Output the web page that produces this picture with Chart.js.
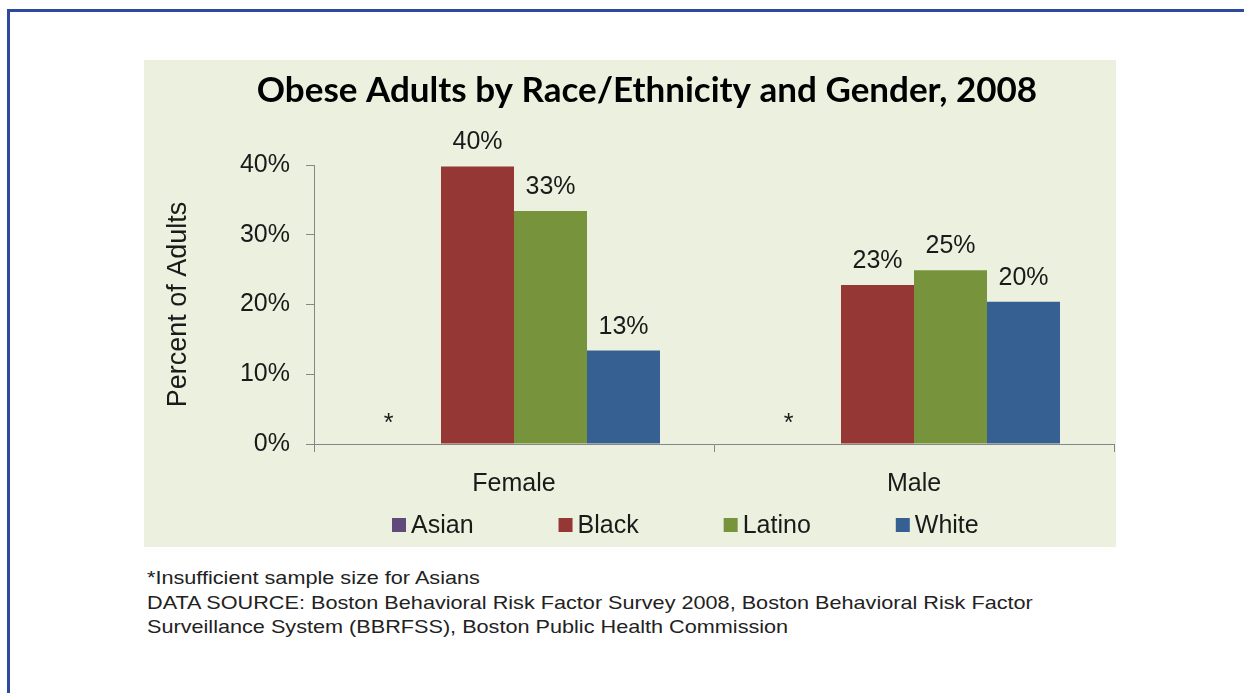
<!DOCTYPE html>
<html>
<head>
<meta charset="utf-8">
<script src="https://cdn.jsdelivr.net/npm/chart.js@4.4.1/dist/chart.umd.min.js"></script>
<style>
  html, body { margin: 0; padding: 0; background: #fff; }
  body { width: 1244px; height: 693px; position: relative; overflow: hidden; }
  .frame {
    position: absolute; left: 7px; top: 9px; width: 1300px; height: 800px;
    border-left: 3px solid #2D4A9F; border-top: 3px solid #2D4A9F;
  }
  .panel { position: absolute; left: 144px; top: 60px; width: 972px; height: 487px; }
  .note {
    position: absolute; left: 147px; top: 566px;
    font-family: "Liberation Sans", Arial, sans-serif; font-size: 18.5px;
    line-height: 24.5px; color: #222; white-space: nowrap;
    transform: scaleX(1.17); transform-origin: 0 0;
  }
</style>
</head>
<body>
<div class="frame"></div>
<div class="panel"><canvas id="chart_1" width="972" height="487"></canvas></div>
<div class="note">
  *Insufficient sample size for Asians<br>
  DATA SOURCE: Boston Behavioral Risk Factor Survey 2008, Boston Behavioral Risk Factor<br>
  Surveillance System (BBRFSS), Boston Public Health Commission
</div>
<script>
const canvas = document.getElementById("chart_1");

const genders = ['Female', 'Male'];
const races = ['Asian', 'Black', 'Latino', 'White'];
const asian = [0, 0];          // insufficient sample, shown as *
const black = [39.8, 22.8];
const latino = [33.4, 24.9];
const white = [13.4, 20.4];
const yTicks = [0, 10, 20, 30, 40];

const colors = ['#604A7B', '#953735', '#77933C', '#376092'];
const axisColor = '#868686';
const tickFont = { family: 'Liberation Sans', size: 25 };

const series = [asian, black, latino, white];

const panelBg = {
    id: 'panelBg',
    beforeDraw(chart) {
        const ctx = chart.ctx;
        ctx.save();
        ctx.fillStyle = '#EBF1DE';
        ctx.fillRect(0, 0, chart.width, chart.height);
        ctx.restore();
    }
};

// value labels above bars, "*" for Asian
const barLabels = {
    id: 'barLabels',
    afterDatasetsDraw(chart) {
        const ctx = chart.ctx;
        ctx.save();
        ctx.font = '25px "Liberation Sans"';
        ctx.fillStyle = '#1a1a1a';
        ctx.textAlign = 'center';
        ctx.textBaseline = 'alphabetic';
        chart.data.datasets.forEach((ds, i) => {
            chart.getDatasetMeta(i).data.forEach((bar, j) => {
                if (i === 0) {
                    ctx.fillText('*', bar.x - 16, bar.y - 13);
                } else {
                    ctx.fillText(Math.round(ds.data[j]) + '%', bar.x, bar.y - 17);
                }
            });
        });
        ctx.restore();
    }
};

// legend drawn by hand so the wide spacing matches
const legendRow = {
    id: 'legendRow',
    afterDraw(chart) {
        const ctx = chart.ctx;
        const area = chart.chartArea;
        ctx.save();
        ctx.font = '25px "Liberation Sans"';
        ctx.textBaseline = 'middle';
        let x = area.left + 78;
        const y = 465;
        races.forEach((name, i) => {
            ctx.fillStyle = colors[i];
            ctx.fillRect(x, y - 7, 14, 14);
            ctx.fillStyle = '#1a1a1a';
            ctx.fillText(name, x + 19, y + 1);
            x += 19 + ctx.measureText(name).width + 85;
        });
        ctx.restore();
    }
};

new Chart(canvas, {
    type: 'bar',
    data: {
        labels: genders,
        datasets: races.map((r, i) => ({
            label: r,
            data: series[i],
            backgroundColor: colors[i],
            borderWidth: 0,
            barPercentage: 1,
            categoryPercentage: 0.73
        }))
    },
    plugins: [panelBg, barLabels, legendRow],
    options: {
        responsive: false,
        animation: false,
        layout: { padding: { left: 36, right: 2, top: 0, bottom: 0 } },
        plugins: {
            legend: { display: false },
            tooltip: { enabled: false },
            title: {
                display: true,
                text: 'Obese Adults by Race/Ethnicity and Gender, 2008',
                color: '#000',
                font: { family: 'Lato', weight: 'bold', size: 35 },
                padding: { top: 10, bottom: 53 }
            }
        },
        scales: {
            x: {
                grid: {
                    drawOnChartArea: false,
                    color: axisColor,
                    tickLength: 8
                },
                border: { color: axisColor },
                ticks: { color: '#1a1a1a', font: tickFont, padding: 17 },
                afterFit(s) { s.height = 103; }
            },
            y: {
                min: 0,
                max: 40,
                afterBuildTicks(s) { s.ticks = yTicks.map(v => ({ value: v })); },
                grid: {
                    drawOnChartArea: false,
                    color: axisColor,
                    tickLength: 8
                },
                border: { color: axisColor },
                ticks: {
                    color: '#1a1a1a',
                    font: tickFont,
                    padding: 16,
                    callback: v => v + '%'
                },
                title: {
                    display: true,
                    text: 'Percent of Adults',
                    color: '#1a1a1a',
                    font: { family: 'Liberation Sans', size: 27 },
                    padding: { top: -18, bottom: 0 }
                },
                afterFit(s) { s.width = 134; }
            }
        }
    }
});
</script>
</body>
</html>
